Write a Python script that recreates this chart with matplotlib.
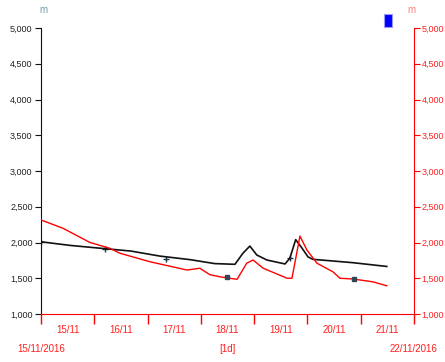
import numpy as np
import matplotlib
matplotlib.use('Agg')
import matplotlib.pyplot as plt
from matplotlib.patches import Rectangle
from matplotlib.ticker import FuncFormatter, FixedLocator

plt.rcParams['font.family'] = ['Liberation Sans', 'DejaVu Sans']

# time in days since 15/11/2016 00:00
black_t = [0.00, 0.54, 1.11, 1.69, 2.23, 2.80, 3.26, 3.64, 3.79, 3.92, 4.05, 4.24,
           4.58, 4.67, 4.78, 4.90, 5.01, 5.10, 5.85, 6.49]
black_v = [2010, 1960, 1920, 1880, 1810, 1760, 1705, 1695, 1850, 1950, 1825, 1755,
           1700, 1780, 2040, 1920, 1800, 1765, 1718, 1665]

red_t = [0.00, 0.41, 0.92, 1.29, 1.48, 2.05, 2.74, 2.98, 3.17, 3.36, 3.68, 3.86,
         3.98, 4.17, 4.62, 4.71, 4.86, 4.99, 5.18, 5.48, 5.61, 5.85, 6.23, 6.49]
red_v = [2315, 2200, 2000, 1920, 1850, 1730, 1615, 1640, 1550, 1520, 1485, 1710,
         1755, 1640, 1500, 1500, 2090, 1895, 1710, 1590, 1500, 1490, 1450, 1395]

day_labels = ['15/11', '16/11', '17/11', '18/11', '19/11', '20/11', '21/11']
y_ticks = [1000, 1500, 2000, 2500, 3000, 3500, 4000, 4500, 5000]

fig = plt.figure(figsize=(4.45, 3.62), dpi=100)
ax = fig.add_axes([0.0921, 0.1326, 0.8382, 0.790])
ax2 = ax.twinx()

ax.plot(black_t, black_v, color='#111111', lw=1.2, zorder=3)
ax2.plot(red_t, red_v, color='#ff0000', lw=1.0, zorder=2)

# small point markers on the curves
ax.plot([0.0, 1.2, 2.35, 4.67], [2010, 1905, 1770, 1785], ls='none', marker='+',
        ms=4, mew=1, color='#223344')
ax2.plot([3.5, 5.87], [1520, 1493], ls='none', marker='s', ms=2.5, color='#334455')

for a in (ax, ax2):
    a.set_xlim(0, 7)
    a.set_ylim(1000, 5000)
    a.set_yticks(y_ticks)
    a.yaxis.set_major_formatter(FuncFormatter(lambda v, p: f'{int(v):,}'))

ax.spines['top'].set_visible(False)
ax2.spines['top'].set_visible(False)
ax.spines['right'].set_visible(False)
ax2.spines['left'].set_visible(False)
ax2.spines['bottom'].set_visible(False)
ax.spines['left'].set_color('#111111')
ax.spines['bottom'].set_color('#ff0000')
ax2.spines['right'].set_color('#ff0000')

ax.tick_params(axis='y', colors='#111111', labelcolor='#222222', labelsize=6.5,
               length=4, pad=2)
ax2.tick_params(axis='y', colors='#ff0000', labelcolor='#ff2020', labelsize=6.5,
                length=4, pad=1.5)

ax.xaxis.set_major_locator(FixedLocator(range(8)))
ax.xaxis.set_minor_locator(FixedLocator([i + 0.5 for i in range(7)]))
ax.xaxis.set_major_formatter(FuncFormatter(lambda v, p: ''))
ax.xaxis.set_minor_formatter(FuncFormatter(
    lambda v, p: day_labels[int(v)] if 0 <= int(v) < len(day_labels) else ''))
ax.tick_params(axis='x', which='major', colors='#ff0000', length=7, width=1)
ax.tick_params(axis='x', which='minor', length=0, labelcolor='#ff2020',
               labelsize=7, pad=8)

fig.text(41 / 445, 1 - 349 / 362, '15/11/2016', color='#ff2020', fontsize=7,
         ha='center', va='center')
fig.text(227 / 445, 1 - 349 / 362, '[1d]', color='#ff2020', fontsize=7,
         ha='center', va='center')
fig.text(413 / 445, 1 - 349 / 362, '22/11/2016', color='#ff2020', fontsize=7,
         ha='center', va='center')

fig.text(43 / 445, 1 - 10 / 362, 'm', color='#7799aa', fontsize=7,
         ha='center', va='center')
fig.text(411 / 445, 1 - 10 / 362, 'm', color='#ff8080', fontsize=7,
         ha='center', va='center')

fig.patches.append(Rectangle((384 / 445, 1 - 27 / 362), 8 / 445, 13 / 362,
                             transform=fig.transFigure, facecolor='#0000ff',
                             edgecolor='#9999ff', lw=0.8))

fig.savefig('out.png', dpi=100)
